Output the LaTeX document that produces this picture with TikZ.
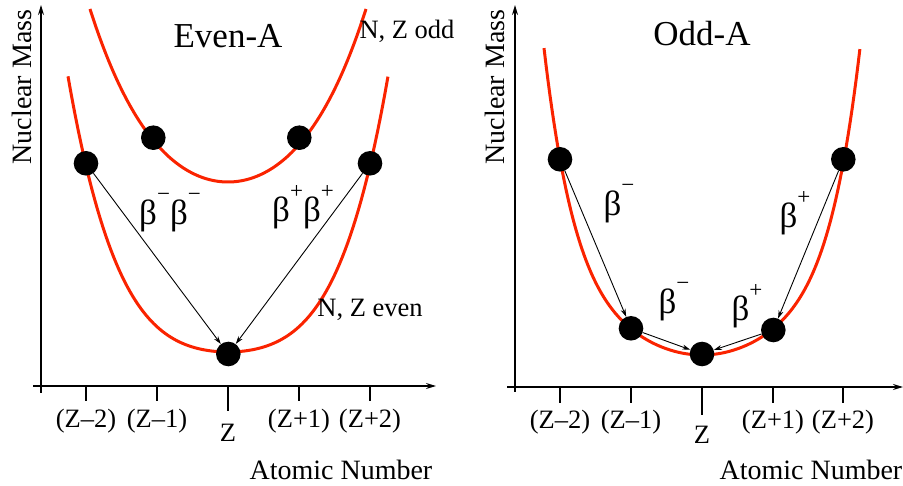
\documentclass[tikz,border=0pt]{standalone}
\usepackage{fontspec}
\setmainfont{Liberation Serif}
\usetikzlibrary{arrows.meta}
\definecolor{curvered}{RGB}{250,35,0}
\newcommand\betasup[1]{β\raisebox{23pt}{\fontsize{23}{23}\selectfont #1}}
\begin{document}
\begin{tikzpicture}[x=1pt,y=-1pt,
  curve/.style={curvered, line width=3pt},
  axis/.style={line width=1.4pt, -{Stealth[length=10pt,width=6pt]}},
  tickmark/.style={line width=1.4pt},
  dot/.style={circle, fill=black, minimum size=24.6pt, inner sep=0pt},
  arr/.style={line width=0.9pt, -{Stealth[length=8pt,width=5pt]}},
  title/.style={font=\fontsize{35}{40}\selectfont},
  lab/.style={font=\fontsize{26.5}{30}\selectfont},
  betalab/.style={font=\fontsize{35}{38}\selectfont, anchor=base, inner sep=0pt},
  axlab/.style={font=\fontsize{28}{32}\selectfont},
]
\useasboundingbox (0,0) rectangle (903,486);
\clip (0,0) rectangle (903,486);

% ---------- left panel: Even-A ----------
\coordinate (LyB) at (41,393); \coordinate (LyT) at (41,5);
\coordinate (LxL) at (33,386); \coordinate (LxR) at (436,386);
\draw[axis] (LyB) -- (LyT);
\draw[axis] (LxL) -- (LxR);
\foreach \t/\l in {86/401,157/401,228/411,299/401,370/401}
  \draw[tickmark] (\t,386) -- (\t,\l);

\draw[curve] plot[domain=-1.6:1.6, samples=120]
  ({228+100*\x},{352-36*\x*\x-28*(\x*\x)*(\x*\x)});
\draw[curve] plot[domain=-1.38:1.38, samples=120]
  ({228+100*\x},{182-68*\x*\x-12*(\x*\x)*(\x*\x)});

\node[dot] (LA) at (86,163.3) {};
\node[dot] (LB) at (153.3,137.7) {};
\node[dot] (LC) at (228.3,354) {};
\node[dot] (LD) at (299.3,137.7) {};
\node[dot] (LE) at (370,163.3) {};

\draw[arr] (LA) -- (LC);
\draw[arr] (LE) -- (LC);

\node[title] (evenA) at (228,36) {Even-A};
\node[lab] (oddNZ) at (407,31) {N, Z odd};
\node[lab] (evenNZ) at (370,310) {N, Z even};
\node[betalab] (bmbm) at (170,225) {\betasup{−}\betasup{−}};
\node[betalab] (bpbp) at (303,222) {\betasup{+}\betasup{+}};

\node[lab] (lt1) at (86,421) {(Z–2)};
\node[lab] (lt2) at (157,421) {(Z–1)};
\node[lab] (lt3) at (228,433) {Z};
\node[lab] (lt4) at (299,421) {(Z+1)};
\node[lab] (lt5) at (370,421) {(Z+2)};
\node[axlab, anchor=west] (lxlab) at (246,470) {Atomic Number};
\node[axlab, rotate=90] (lylab) at (22,87) {Nuclear Mass};

% ---------- right panel: Odd-A ----------
\coordinate (RyB) at (515,392); \coordinate (RyT) at (515,5);
\coordinate (RxL) at (507,387); \coordinate (RxR) at (903,387);
\draw[axis] (RyB) -- (RyT);
\draw[axis] (RxL) -- (RxR);
\foreach \t/\l in {560/403,631/403,702/415,773/403,843/403}
  \draw[tickmark] (\t,387) -- (\t,\l);

\draw[curve] plot[domain=-1.58:1.58, samples=160]
  ({702+100*\x},{355-48.9*\x*\x-11.88*(\x*\x)*(\x*\x)*(\x*\x)});

\node[dot] (RA) at (560,159.3) {};
\node[dot] (RB) at (631,328.3) {};
\node[dot] (RC) at (702,354) {};
\node[dot] (RD) at (773.3,330) {};
\node[dot] (RE) at (843.3,159.3) {};

\draw[arr] (RA) -- (RB);
\draw[arr] (RB) -- (RC);
\draw[arr] (RE) -- (RD);
\draw[arr] (RD) -- (RC);

\node[title] (oddA) at (702,34) {Odd-A};
\node[betalab] (rb1) at (619,216) {\betasup{−}};
\node[betalab] (rb2) at (674,314) {\betasup{−}};
\node[betalab] (rb3) at (747,321) {\betasup{+}};
\node[betalab] (rb4) at (795,228) {\betasup{+}};

\node[lab] (rt1) at (560,422) {(Z–2)};
\node[lab] (rt2) at (631,422) {(Z–1)};
\node[lab] (rt3) at (702,435) {Z};
\node[lab] (rt4) at (773,422) {(Z+1)};
\node[lab] (rt5) at (843,422) {(Z+2)};
\node[axlab, anchor=west] (rxlab) at (716,470) {Atomic Number};
\node[axlab, rotate=90] (rylab) at (495,87) {Nuclear Mass};
\end{tikzpicture}
\end{document}
